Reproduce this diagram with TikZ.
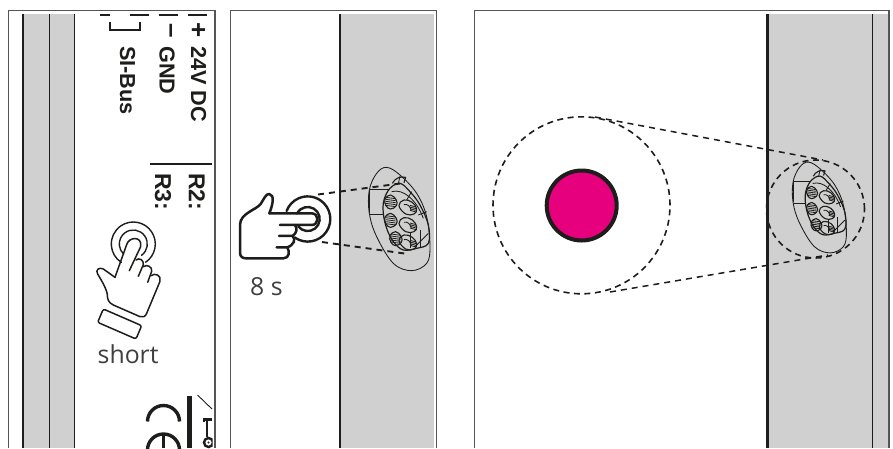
\documentclass[tikz,border=0pt]{standalone}
\usepackage{fontspec}
\setmainfont{Open Sans}
\newfontfamily\labelfont[Ligatures=TeX]{Liberation Sans}
\definecolor{ink}{HTML}{1D1D1B}
\definecolor{band}{HTML}{D0D0D0}
\definecolor{frameline}{HTML}{555555}
\definecolor{dotpink}{HTML}{E6007E}
\tikzset{
  frame/.style={draw=frameline,line width=1.2pt},
  strong/.style={draw=ink,line width=2.2pt},
  thin/.style={draw=ink,line width=1.1pt},
  dashlink/.style={draw=ink,line width=1.9pt,dash pattern=on 6pt off 5pt},
  hand/.style={draw=ink,line join=round,line cap=round},
  print/.style={font=\labelfont\bfseries\fontsize{21.7}{22}\selectfont,text=ink,rotate=-90,inner sep=0pt},
  bigprint/.style={font=\labelfont\bfseries\fontsize{26}{26}\selectfont,text=ink,rotate=-90,inner sep=0pt},
  relayprint/.style={font=\labelfont\bfseries\fontsize{23}{23}\selectfont,text=ink,rotate=-90,inner sep=0pt},
  caption/.style={font=\fontsize{24.8}{25}\selectfont,text=ink!85,inner sep=0pt},
  dev/.style={draw=ink,line width=0.85pt,line join=round},
  zoomthree/.style={x=0.3333pt,y=-0.3333pt}
}
\newcommand{\devicedraw}{%
  \draw[dev] plot[smooth cycle,tension=0.6] coordinates {(418,120) (440,70) (470,52) (510,75) (560,130) (590,200) (600,290) (590,340) (545,362) (490,340) (440,260) (418,190)};
  \draw[dev] (418,120) -- (418,190);
  \draw[dev] (418,118) -- (478,118);
  \draw[dev] (418,193) -- (462,193);
  \draw[dev,line width=1.2pt] plot[smooth cycle,tension=0.6] coordinates {(462,150) (480,115) (510,100) (540,125) (570,165) (595,225) (595,280) (560,295) (520,300) (490,275) (470,235) (460,190)};
  \draw[dev,line width=1.1pt] (487,100) .. controls (495,85) and (510,78) .. (527,82) -- (522,98);
  \draw[dev] (510,78) -- (505,102);
  \draw[dev] (485,125) .. controls (520,115) and (560,150) .. (580,205);
  \draw[dev] (565,195) -- (590,185);
  \draw[dev] (545,125) -- (530,150);
  \draw[dev] (555,290) -- (595,250);
  \draw[dev] (570,240) -- (570,292);
  \draw[dev] (540,250) -- (540,295);
  \foreach \cx/\cy in {482/155,482/210,497/265}{
    \draw[dev,line width=1.1pt] plot[smooth cycle,tension=0.7] coordinates {(\cx-17,\cy-8) (\cx,\cy-20) (\cx+17,\cy-5) (\cx+17,\cy+12) (\cx,\cy+22) (\cx-14,\cy+12)};
    \foreach \k in {-13,-7,-1,5,11}{
      \draw[ink,line width=0.8pt] (\cx-15,\cy+\k) -- (\cx+15,\cy+\k+4);
    }
  }
  \foreach \cx/\cy in {532/172,532/225,532/277}{
    \draw[dev,line width=1.1pt] plot[smooth cycle,tension=0.7] coordinates {(\cx-25,\cy-5) (\cx-10,\cy-22) (\cx+15,\cy-15) (\cx+28,\cy+5) (\cx+20,\cy+20) (\cx-5,\cy+20)};
    \draw[dev] (\cx-10,\cy-8) .. controls (\cx,\cy-12) and (\cx+10,\cy-2) .. (\cx+12,\cy+10);
    \foreach \k in {-6,-1,4,9}{
      \draw[ink,line width=0.8pt] (\cx+8,\cy+\k) -- (\cx+26,\cy+\k+5);
    }
  }
}
\begin{document}
\begin{tikzpicture}[x=1pt,y=-1pt]
\useasboundingbox (0,0) rectangle (893,448);
\fill[white] (0,0) rectangle (893,448);
\begin{scope}
\clip (0,0) rectangle (893,448);

% panel 1
\fill[band] (23,14) rectangle (74,448);
\draw[frame] (8.7,448) -- (8.7,10.8) -- (215,10.8) -- (215,448);
\draw[strong] (22.8,14) -- (22.8,448);
\draw[thin] (49.5,14) -- (49.5,448);
\draw[thin] (74.2,14) -- (74.2,448);

\draw[strong] (100,14.6) -- (110,14.6);
\draw[strong] (130,14.6) -- (149,14.6);
\draw[strong] (159,14.6) -- (178,14.6);
\draw[strong] (188,14.6) -- (207,14.6);
\draw[strong] (110,22) -- (110,30) -- (140,30) -- (140,22);
\node[bigprint,anchor=center] (plus) at (197.5,30) {+};
\node[bigprint,anchor=center] (minus) at (168,31) {–};
\node[print,anchor=west] (dc) at (198.5,46) {24V DC};
\node[print,anchor=west] (gnd) at (167,46) {GND};
\node[print,anchor=west] (bus) at (127.5,46) {SI-Bus};
\draw[strong] (150,163.6) -- (212,163.6);
\node[relayprint,anchor=west] (rtwo) at (197,173) {R2:};
\node[relayprint,anchor=west] (rthree) at (163,173) {R3:};

% pressing hand, panel 1
\begin{scope}[zoomthree,yshift=-224pt]
\draw[hand,line width=1.5pt] (345,160) -- (380,62) .. controls (386,38) and (428,35) .. (422,68) -- (388,140);
\draw[hand,line width=1.5pt] (408,108) .. controls (418,100) and (432,108) .. (430,122) -- (415,157);
\draw[hand,line width=1.5pt] (430,128) .. controls (440,120) and (458,128) .. (455,142) -- (443,175);
\draw[hand,line width=1.5pt] (453,155) .. controls (465,145) and (486,155) .. (480,172) -- (440,268) .. controls (436,278) and (428,282) .. (420,278) -- (340,243) .. controls (325,236) and (322,225) .. (322,212) .. controls (320,195) and (305,170) .. (293,150) .. controls (285,138) and (298,128) .. (310,135) -- (345,160);
\draw[hand,line width=1.5pt,rounded corners=2pt] (310,255) -- (425,305) -- (408,345) -- (293,295) -- cycle;
\end{scope}
\draw[hand,line width=1.4pt] (133.3,244) ++(304:22pt) arc[start angle=304,end angle=597,radius=22pt];
\draw[hand,line width=1.4pt] (133.3,244) ++(306:14pt) arc[start angle=306,end angle=586,radius=14pt];
\node[caption,anchor=base west] (short) at (97.5,363) {short};

% CE and bin marks
\draw[ink,line width=3.4pt] (147.5,421.5) arc[start angle=180,end angle=0,radius=16pt];
\draw[ink,line width=3.4pt] (147.5,450) arc[start angle=180,end angle=0,radius=16pt];
\draw[ink,line width=2.8pt] (163.5,434) -- (163.5,448);
\fill[ink] (186.5,396) rectangle (191.7,448);
\begin{scope}
\clip (190,390) rectangle (212.5,448);
\draw[ink,line width=0.9pt] (197.5,395) -- (212,409);
\fill[ink] (202.5,417.5) rectangle (212,420.5);
\fill[ink] (202.5,417.5) rectangle (205,422);
\draw[ink,line width=1.2pt] (207,419) -- (207,437);
\draw[ink,line width=2.4pt] (208.5,442.5) circle[radius=4.5pt];
\fill[ink] (208.5,442.5) circle[radius=1.2pt];
\end{scope}

% panel 2
\fill[band] (340,14) rectangle (434,448);
\draw[frame] (230.3,448) -- (230.3,10.8) -- (436.8,10.8) -- (436.8,448);
\draw[strong] (339.6,14) -- (339.6,448);
\begin{scope}[zoomthree,xshift=230pt,yshift=-150pt]
\devicedraw
\draw[hand,line width=2.5pt] (118,190) -- (245,190) .. controls (268,190) and (268,225) .. (245,225) -- (150,225);
\draw[hand,line width=2.5pt] (118,190) .. controls (128,165) and (135,135) .. (118,132) .. controls (108,130) and (100,150) .. (92,162) .. controls (78,180) and (30,190) .. (30,225) -- (30,308) .. controls (30,320) and (38,325) .. (48,325) -- (160,325) .. controls (178,325) and (180,305) .. (172,292) -- (140,292);
\draw[hand,line width=2.5pt] (172,292) .. controls (192,285) and (198,268) .. (188,258) -- (147,258);
\draw[hand,line width=2.5pt] (188,258) .. controls (200,250) and (203,235) .. (195,225);
\end{scope}
\draw[hand,line width=2.4pt] (307.7,219) ++(235:22.6pt) arc[start angle=235,end angle=519,radius=22.6pt];
\draw[hand,line width=2.4pt] (307.7,219) ++(217:12pt) arc[start angle=217,end angle=513,radius=12pt];
\coordinate (ringtop) at (318,194.5);
\coordinate (ringbot) at (322,242);
\coordinate (devtop) at (400,183.5);
\coordinate (devbot) at (408,254);
\draw[dashlink] (ringtop) -- (devtop);
\draw[dashlink] (ringbot) -- (devbot);
\node[caption,anchor=base west] (hold) at (250,295.5) {8 s};

% panel 3
\fill[band] (768,14) rectangle (888.5,448);
\draw[frame] (474.7,448) -- (474.7,10.8) -- (889,10.8) -- (889,448);
\draw[strong] (767.4,14) -- (767.4,448);
\draw[thin] (872.2,14) -- (872.2,448);
\begin{scope}[x=0.293pt,y=-0.293pt,xshift=670.6pt,yshift=-146.8pt]
\devicedraw
\end{scope}
\node[circle,draw=ink,line width=1.6pt,dash pattern=on 6pt off 4.5pt,minimum size=177pt,inner sep=0pt] (bigring) at (581.5,205.3) {};
\node[circle,draw=ink,line width=1.6pt,dash pattern=on 6pt off 4.5pt,minimum size=98pt,inner sep=0pt] (smallring) at (815.5,209) {};
\node[circle,draw=ink,fill=dotpink,line width=4pt,minimum size=70pt,inner sep=0pt] (dot) at (581.7,205.5) {};
\coordinate (bigtop) at (595,117);
\coordinate (bigbot) at (610,292);
\coordinate (smalltop) at (823,160);
\coordinate (smallbot) at (828,255);
\draw[dashlink,line width=1.5pt] (bigtop) -- (smalltop);
\draw[dashlink,line width=1.5pt] (bigbot) -- (smallbot);
\end{scope}
\end{tikzpicture}
\end{document}
